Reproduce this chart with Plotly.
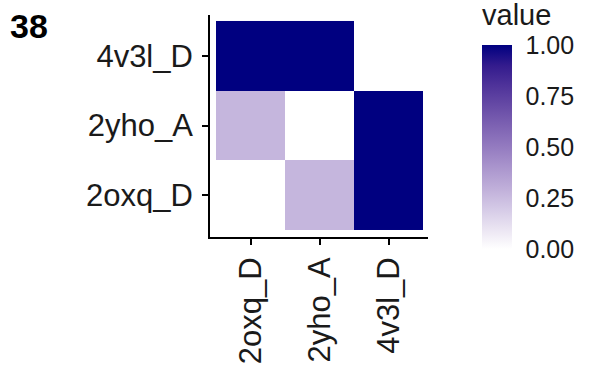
import numpy as np
import plotly.graph_objects as go

# categories (x columns, y rows bottom -> top)
x_labels = ["2oxq_D", "2yho_A", "4v3l_D"]
y_labels = ["2oxq_D", "2yho_A", "4v3l_D"]

# tile values per row (bottom row first); None = no tile
row_2oxq_D = [0.0, 0.27, 1.0]
row_2yho_A = [0.27, 0.0, 1.0]
row_4v3l_D = [1.0, 1.0, None]
z = [row_2oxq_D, row_2yho_A, row_4v3l_D]

cbar_ticks = [0.0, 0.25, 0.5, 0.75, 1.0]
cbar_text = ["0.00", "0.25", "0.50", "0.75", "1.00"]


# ggplot-like gradient white -> navy, interpolated in Lab space
def srgb_to_lab(rgb):
    c = np.array(rgb) / 255.0
    c = np.where(c > 0.04045, ((c + 0.055) / 1.055) ** 2.4, c / 12.92)
    m = np.array([[0.4124, 0.3576, 0.1805], [0.2126, 0.7152, 0.0722], [0.0193, 0.1192, 0.9505]])
    xyz = m @ c / np.array([0.95047, 1.0, 1.08883])
    f = np.where(xyz > 0.008856, np.cbrt(xyz), 7.787 * xyz + 16 / 116)
    return np.array([116 * f[1] - 16, 500 * (f[0] - f[1]), 200 * (f[1] - f[2])])


def lab_to_srgb(lab):
    L, a, b = lab
    fy = (L + 16) / 116
    fx = fy + a / 500
    fz = fy - b / 200
    f = np.array([fx, fy, fz])
    xyz = np.where(f ** 3 > 0.008856, f ** 3, (f - 16 / 116) / 7.787) * np.array([0.95047, 1.0, 1.08883])
    m = np.array([[3.2406, -1.5372, -0.4986], [-0.9689, 1.8758, 0.0415], [0.0557, -0.2040, 1.0570]])
    c = m @ xyz
    c = np.where(c > 0.0031308, 1.055 * np.clip(c, 0, None) ** (1 / 2.4) - 0.055, 12.92 * c)
    c = np.clip(c, 0, 1) * 255
    return "rgb({:.0f},{:.0f},{:.0f})".format(*c)


lo = srgb_to_lab([255, 255, 255])
hi = srgb_to_lab([0, 0, 128])
scale = [[t, lab_to_srgb(lo + (hi - lo) * t)] for t in np.linspace(0, 1, 11)]

font = "Liberation Sans, Arial, sans-serif"

# colorbar geometry in pixels (panel spans x 210..428, y 15..237)
CB_TOP, CB_LEN, CB_X, CB_W = 45, 204, 482, 30


def px_x(p):
    return (p - 210) / 218


def px_y(p):
    return (237 - p) / 222


fig = go.Figure(go.Heatmap(
    x=x_labels, y=y_labels, z=z,
    zmin=0, zmax=1, colorscale=scale,
    colorbar=dict(
        thickness=CB_W, len=CB_LEN, lenmode="pixels",
        x=CB_X / 590, xref="container", xanchor="left", xpad=0,
        y=px_y(CB_TOP), yref="paper", yanchor="top", ypad=0,
        tickvals=cbar_ticks, ticktext=cbar_text,
        ticks="outside", tickcolor="white", ticklen=9, tickwidth=1,
        tickfont=dict(size=25, color="#1a1a1a"),
        outlinewidth=0,
    ),
    hoverongaps=False,
))

# short white tick marks inside the colour bar, both sides
for v in cbar_ticks:
    yy = px_y(CB_TOP + (1 - v) * CB_LEN)
    for x0, x1 in [(CB_X, CB_X + 5), (CB_X + CB_W - 5, CB_X + CB_W)]:
        fig.add_shape(type="line", xref="paper", yref="paper",
                      x0=px_x(x0), x1=px_x(x1), y0=yy, y1=yy,
                      line=dict(color="white", width=1.5))

fig.update_xaxes(
    type="category", range=[-0.587, 2.572],
    showline=True, linecolor="black", linewidth=1.8, mirror=False,
    ticks="outside", ticklen=6, tickwidth=1.8, tickcolor="black",
    tickangle=-90, tickfont=dict(size=31, color="#1a1a1a"),
    showgrid=False, zeroline=False,
)
fig.update_yaxes(
    type="category", range=[-0.6, 2.586],
    showline=True, linecolor="black", linewidth=1.8, mirror=False,
    ticks="outside", ticklen=6, tickwidth=1.8, tickcolor="black",
    ticklabelstandoff=3,
    tickfont=dict(size=31, color="#1a1a1a"),
    showgrid=False, zeroline=False,
)

# panel tag and legend title
fig.add_annotation(
    text="<b>38</b>", xref="paper", yref="paper",
    x=px_x(8), y=px_y(5), xanchor="left", yanchor="top",
    showarrow=False, font=dict(size=34, color="black"),
)
fig.add_annotation(
    text="value", xref="paper", yref="paper",
    x=px_x(480), y=px_y(-3), xanchor="left", yanchor="top",
    showarrow=False, font=dict(size=29, color="#1a1a1a"),
)

fig.update_layout(
    width=590, height=365,
    margin=dict(l=210, r=162, t=15, b=128, autoexpand=False),
    plot_bgcolor="white", paper_bgcolor="white",
    font=dict(family=font),
)

fig.write_html("out.html", config={"displayModeBar": False},
               post_script="document.body.style.margin='0';")
